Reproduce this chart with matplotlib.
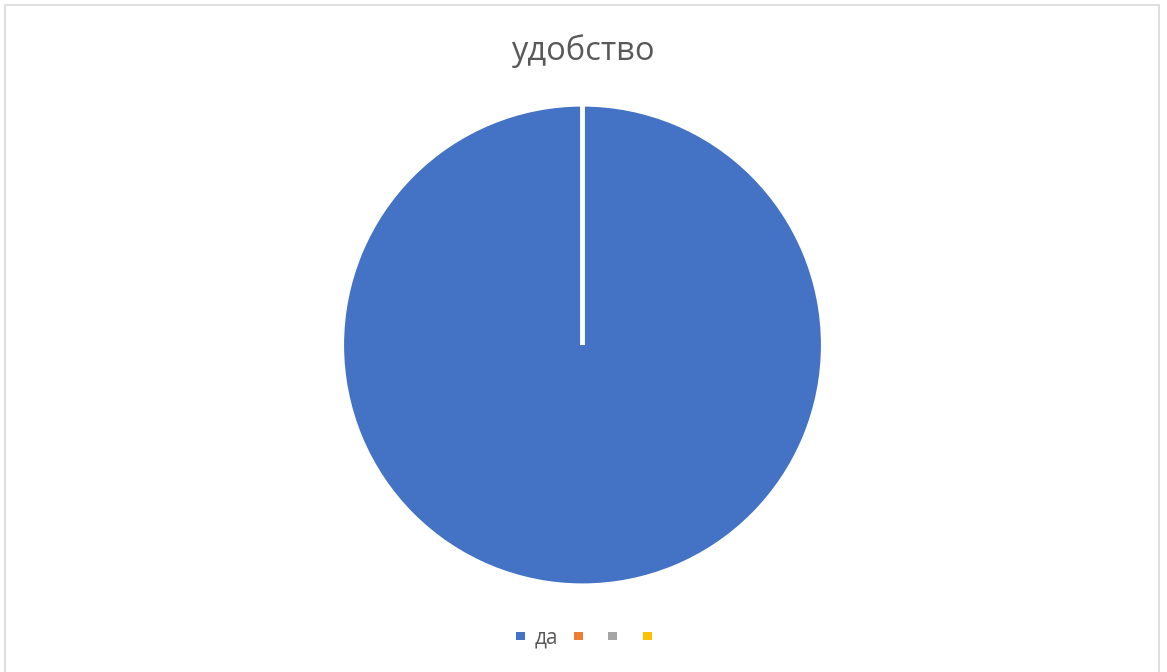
import matplotlib
matplotlib.use("Agg")
import matplotlib.pyplot as plt
from matplotlib.patches import Rectangle

title = "удобство"
labels = ["да", "", "", ""]
values = [1, 0, 0, 0]
colors = ["#4472C4", "#ED7D31", "#A5A5A5", "#FFC000"]

W, H = 1167, 672
fig = plt.figure(figsize=(W / 100, H / 100), dpi=100)
fig.patch.set_facecolor("white")

# border
fig.patches.append(Rectangle((5 / W, -0.01), (1159 - 5) / W, (H - 4.5) / H + 0.01,
                             transform=fig.transFigure, fill=False,
                             edgecolor="#D9D9D9", linewidth=1.2))

cx, cy, r = 582.5, 345, 240.5
ax = fig.add_axes([(cx - r) / W, (H - cy - r) / H, 2 * r / W, 2 * r / H])
wedges, _ = ax.pie(values, colors=colors, startangle=90, counterclock=False,
                   radius=1.0,
                   wedgeprops=dict(edgecolor="white", linewidth=3.0))
ax.set_xlim(-1, 1)
ax.set_ylim(-1, 1)
ax.set_aspect("equal")
ax.axis("off")

fig.text(583 / W, 1 - 51 / H, title, ha="center", va="center",
         fontsize=23.5, color="#595959", family="Open Sans")

leg = fig.legend(wedges, labels, loc="center", bbox_to_anchor=(589 / W, 1 - 638 / H),
                 ncol=4, frameon=False, handlelength=0.42, handleheight=0.26,
                 handletextpad=0.5, columnspacing=0.74,
                 prop=dict(family="Open Sans", size=15))
for t in leg.get_texts():
    t.set_color("#595959")
for h in leg.legend_handles:
    h.set_edgecolor("none")

fig.savefig("out.png", dpi=100)
